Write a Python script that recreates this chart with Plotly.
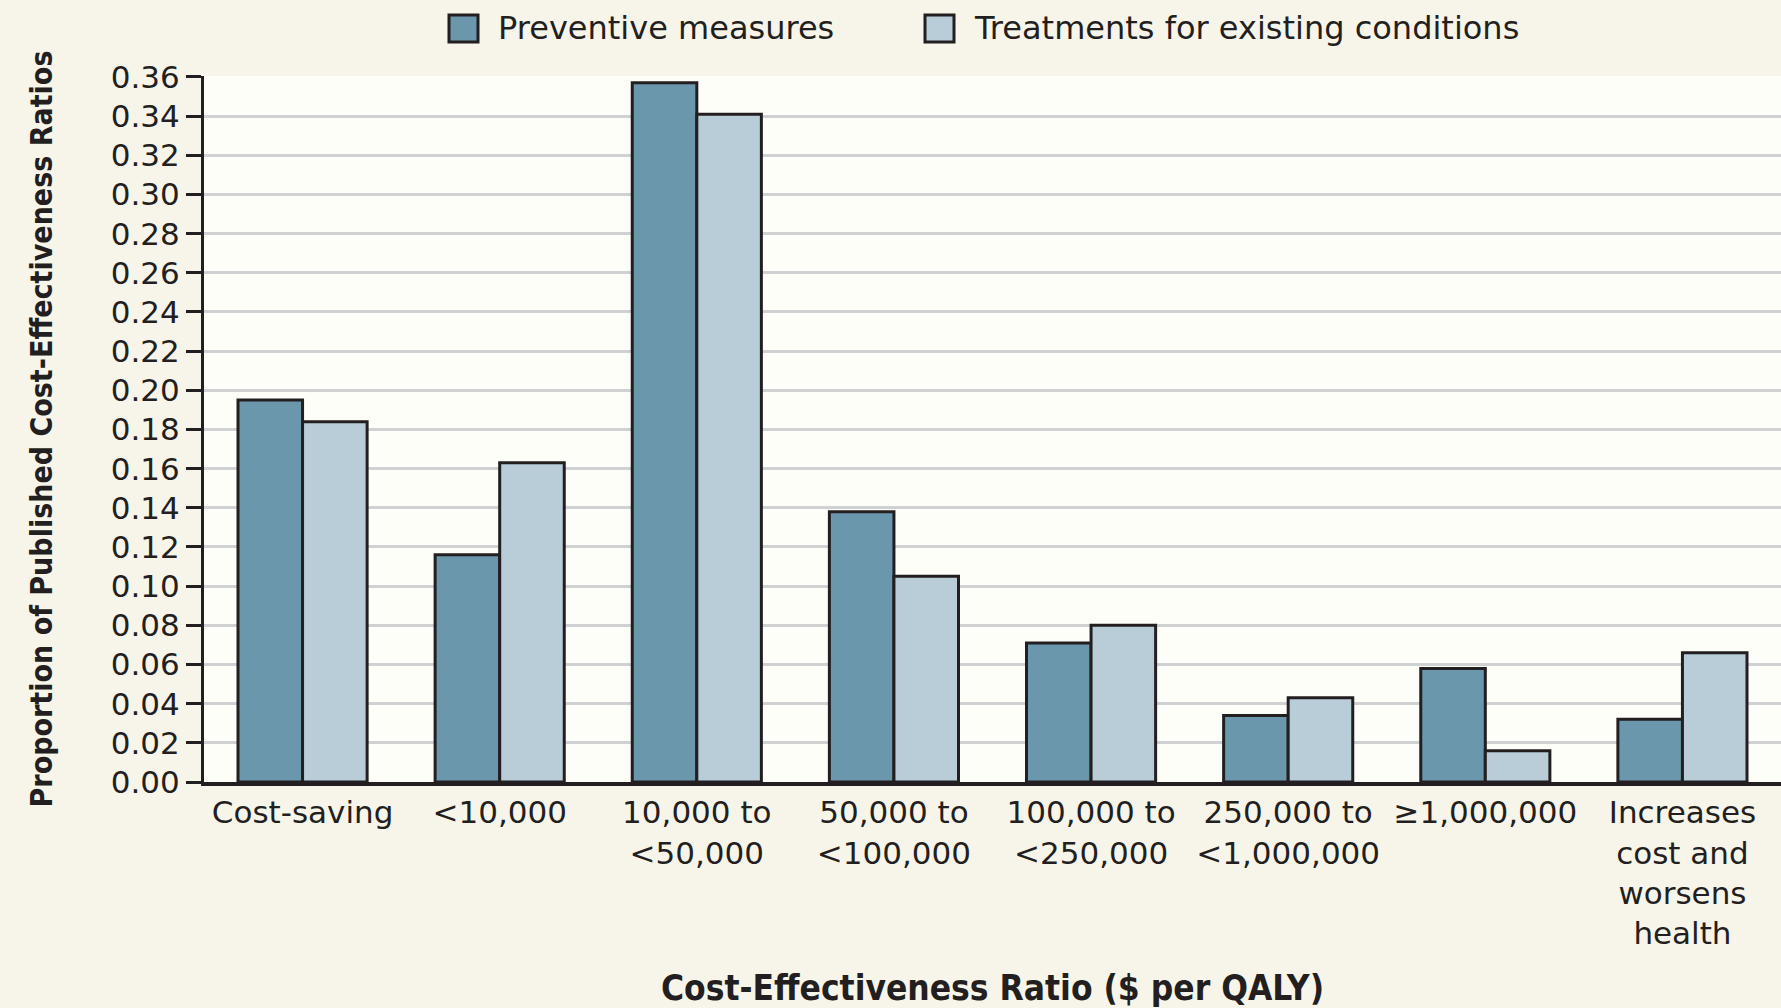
import plotly.graph_objects as go

# ---- data ----
categories = ["Cost-saving", "<10,000", "10,000 to <50,000", "50,000 to <100,000",
              "100,000 to <250,000", "250,000 to <1,000,000", ">=1,000,000",
              "Increases cost and worsens health"]
tick_labels = ["Cost-saving", "&lt;10,000", "10,000 to<br>&lt;50,000", "50,000 to<br>&lt;100,000",
               "100,000 to<br>&lt;250,000", "250,000 to<br>&lt;1,000,000", "≥1,000,000",
               "Increases<br>cost and<br>worsens<br>health"]
preventive = [0.195, 0.116, 0.357, 0.138, 0.071, 0.034, 0.058, 0.032]
treatments = [0.184, 0.163, 0.341, 0.105, 0.080, 0.043, 0.016, 0.066]
series_names = ["Preventive measures", "Treatments for existing conditions"]
y_ticks = [round(i * 0.02, 2) for i in range(19)]
y_tick_labels = [f"{v:.2f}" for v in y_ticks]

# ---- style ----
W, H = 1781, 1008
ML, MR, MT, MB = 204, 0, 76, 226
PW, PH = W - ML - MR, H - MT - MB
C_PREV = "#6A97AC"
C_TREAT = "#B9CDD8"
C_INK = "#231F20"
PAPER = "#F7F5EA"
PLOT = "#FEFEF9"
GRID = "#CFD1D3"
FONT = "DejaVu Sans"
BOLD = "DejaVu Sans Condensed, Liberation Sans Narrow, DejaVu Sans"


def px(x):
    return (x - ML) / PW


def py(y):
    return (H - MB - y) / PH


fig = go.Figure()
fig.add_trace(go.Bar(x=categories, y=preventive, name=series_names[0],
                     marker=dict(color=C_PREV, line=dict(color=C_INK, width=3)),
                     showlegend=False))
fig.add_trace(go.Bar(x=categories, y=treatments, name=series_names[1],
                     marker=dict(color=C_TREAT, line=dict(color=C_INK, width=3)),
                     showlegend=False))

# manual legend (large square swatches)
legend_items = [(449, C_PREV, series_names[0]), (925, C_TREAT, series_names[1])]
for x0, col, name in legend_items:
    fig.add_shape(type="rect", xref="paper", yref="paper",
                  x0=px(x0), x1=px(x0 + 29), y0=py(42), y1=py(15),
                  fillcolor=col, line=dict(color=C_INK, width=3))
    fig.add_annotation(xref="paper", yref="paper", x=px(x0 + 47), y=py(28),
                       xanchor="left", yanchor="middle", text=name, showarrow=False,
                       font=dict(family=FONT, size=32, color=C_INK))

fig.update_layout(
    width=W, height=H,
    margin=dict(l=ML, r=MR, t=MT, b=MB, autoexpand=False),
    paper_bgcolor=PAPER, plot_bgcolor=PLOT,
    barmode="group", bargap=0.345, bargroupgap=0,
    font=dict(family=FONT, size=31, color=C_INK),
    xaxis=dict(
        tickmode="array", tickvals=categories, ticktext=tick_labels,
        range=[-0.5, 7.5], showline=True, linecolor=C_INK, linewidth=4,
        ticks="", showgrid=False, zeroline=False,
        tickfont=dict(family=FONT, size=31, color=C_INK),
        title=dict(text="<b>Cost-Effectiveness Ratio ($ per QALY)</b>",
                   font=dict(family=BOLD, size=35, color=C_INK), standoff=26),
    ),
    yaxis=dict(
        range=[0, 0.3605], tickmode="array", tickvals=y_ticks, ticktext=y_tick_labels,
        showline=True, linecolor=C_INK, linewidth=3,
        ticks="outside", ticklen=15, tickwidth=3, tickcolor=C_INK,
        showgrid=True, gridcolor=GRID, gridwidth=3, zeroline=False,
        tickfont=dict(family=FONT, size=31, color=C_INK),
        title=dict(text="<b>Proportion of Published Cost-Effectiveness Ratios</b>",
                   font=dict(family=BOLD, size=30, color=C_INK), standoff=50),
    ),
)

fig.write_html(
    "out.html",
    config={"displayModeBar": False},
    post_script="document.body.style.margin='0';document.body.style.background='#F7F5EA';"
                "document.documentElement.style.overflow='hidden';",
)
